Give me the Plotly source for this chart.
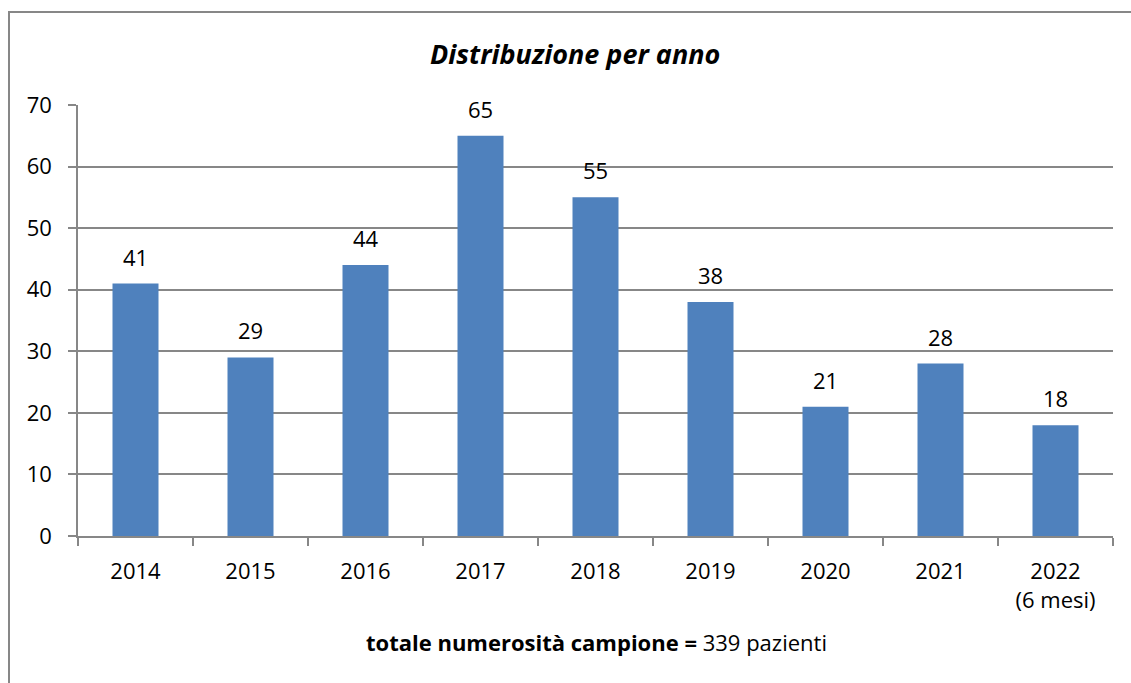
import plotly.graph_objects as go

categories = ["2014", "2015", "2016", "2017", "2018", "2019", "2020", "2021", "2022<br>(6 mesi)"]
values = [41, 29, 44, 65, 55, 38, 21, 28, 18]
title_text = "<b><i>Distribuzione per anno</i></b>"
footer_text = "<b>totale numerosità campione =</b> 339 pazienti"

FONT = "Open Sans"
GRAY = "#878787"
W, H = 1131, 683
L, R, T, B = 78, 18, 105, 147
pw, ph = W - L - R, H - T - B

def px_x(x):
    return (x - L) / pw

def px_y(y):
    return (H - B - y) / ph

fig = go.Figure()
fig.add_trace(go.Bar(
    x=categories, y=values,
    marker=dict(color="#4F81BD", line=dict(width=0)),
    width=0.4, hoverinfo="skip",
))

for i, v in enumerate(values):
    fig.add_annotation(x=i, y=v, text=str(v), showarrow=False,
                       yanchor="bottom", yshift=10,
                       font=dict(family=FONT, size=22, color="#000"))

fig.add_annotation(x=px_x(575), y=px_y(54), xref="paper", yref="paper",
                   xanchor="center", yanchor="middle",
                   text=title_text, showarrow=False,
                   font=dict(family=FONT, size=27, color="#000"))
fig.add_annotation(x=px_x(596), y=px_y(642), xref="paper", yref="paper",
                   xanchor="center", yanchor="middle",
                   text=footer_text, showarrow=False,
                   font=dict(family=FONT, size=22, color="#000"))

fig.add_shape(type="rect", xref="paper", yref="paper",
              x0=px_x(9), x1=px_x(1145), y0=px_y(700), y1=px_y(12),
              line=dict(color=GRAY, width=2), fillcolor="rgba(0,0,0,0)")

fig.update_layout(
    width=W, height=H,
    margin=dict(l=L, r=R, t=T, b=B, pad=0),
    paper_bgcolor="white", plot_bgcolor="white",
    showlegend=False,
    font=dict(family=FONT, size=22, color="#000"),
)
fig.update_xaxes(
    type="category", range=[-0.5, len(categories) - 0.5],
    tickson="boundaries", ticks="outside", ticklen=8,
    tickcolor=GRAY, tickwidth=1.5, showline=True, linecolor=GRAY, linewidth=1.5,
    showgrid=False, tickfont=dict(family=FONT, size=22), tickangle=0,
    ticklabelstandoff=15,
)
fig.update_yaxes(
    range=[0, 70], dtick=10, ticks="outside", ticklen=8, tickcolor=GRAY,
    tickwidth=1.5, showline=True, linecolor=GRAY, linewidth=1.5,
    showgrid=True, gridcolor=GRAY, gridwidth=1.5, zeroline=False,
    tickfont=dict(family=FONT, size=22), ticklabelstandoff=12,
)

fig.write_html(
    "out.html", config={"displayModeBar": False},
    post_script="document.body.style.margin='0px';"
                "document.body.style.overflow='hidden';"
                "document.documentElement.style.overflow='hidden';",
)
